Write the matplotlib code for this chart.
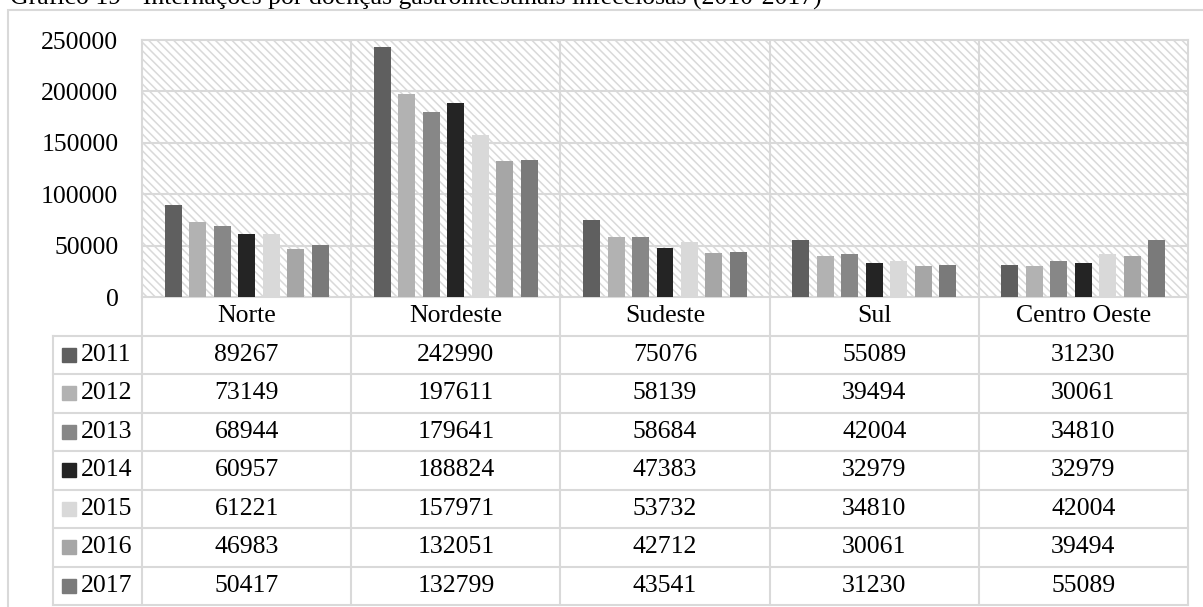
"""
Gráfico 19 - internações por doenças gastrointestinais infecciosas,
barras por região com tabela de dados embaixo (estilo Excel).
"""

import matplotlib

matplotlib.use("Agg")
import matplotlib.pyplot as plt
from matplotlib.patches import Rectangle

plt.rcParams["font.family"] = ["Liberation Serif", "DejaVu Serif"]
plt.rcParams["hatch.color"] = "#dedede"
plt.rcParams["hatch.linewidth"] = 1.1

regions = ["Norte", "Nordeste", "Sudeste", "Sul", "Centro Oeste"]
years = ["2011", "2012", "2013", "2014", "2015", "2016", "2017"]
v2011 = [89267, 242990, 75076, 55089, 31230]
v2012 = [73149, 197611, 58139, 39494, 30061]
v2013 = [68944, 179641, 58684, 42004, 34810]
v2014 = [60957, 188824, 47383, 32979, 32979]
v2015 = [61221, 157971, 53732, 34810, 42004]
v2016 = [46983, 132051, 42712, 30061, 39494]
v2017 = [50417, 132799, 43541, 31230, 55089]
series = [v2011, v2012, v2013, v2014, v2015, v2016, v2017]
colors = ["#5f5f5f", "#b2b2b2", "#878787", "#242424", "#d9d9d9", "#a6a6a6", "#7a7a7a"]
yticks = [0, 50000, 100000, 150000, 200000, 250000]

W, H = 1203, 607
GRID = "#d9d9d9"
FS = 18.5

fig = plt.figure(figsize=(W / 100, H / 100), dpi=100)


def px_rect(x0, y0, x1, y1):
    # pixel box (top-left origin) -> figure fraction [l, b, w, h]
    return [x0 / W, 1 - y1 / H, (x1 - x0) / W, (y1 - y0) / H]


# outer chart border (right/bottom run off the picture)
fig.patches.append(Rectangle((8 / W, -0.1), 1.2, 1 - 10 / H + 0.1,
                             transform=fig.transFigure, fill=False,
                             edgecolor=GRID, linewidth=1.5))

fig.text(10 / W, 1 - 5 / H,
         "Gráfico 19 - Internações por doenças gastrointestinais infecciosas (2010-2017)",
         fontsize=FS, va="baseline", ha="left")

# bar chart
ax = fig.add_axes(px_rect(142, 40, 1188, 297))
ax.add_patch(Rectangle((0, 0), 1, 1, transform=ax.transAxes, facecolor="white",
                       hatch="\\\\\\\\", edgecolor=GRID, linewidth=0, zorder=0))
ax.set_facecolor("white")

step = 0.117
width = 0.081
for j, (vals, col) in enumerate(zip(series, colors)):
    xs = [i + (j - 3) * step for i in range(len(regions))]
    ax.bar(xs, vals, width=width, color=col, zorder=3)

ax.set_xlim(-0.5, len(regions) - 0.5)
ax.set_ylim(0, 250000)
ax.set_yticks(yticks)
ax.set_yticklabels([str(t) for t in yticks], fontsize=FS)
ax.tick_params(axis="y", length=0, pad=17)
ax.set_xticks([])
for y in yticks[1:-1]:
    ax.axhline(y, color=GRID, linewidth=1.5, zorder=1)
for i in range(len(regions) - 1):
    ax.axvline(i + 0.5, color=GRID, linewidth=1.5, zorder=1)
for s in ax.spines.values():
    s.set_color(GRID)
    s.set_linewidth(1.5)

# data table under the chart
leg_w = 89 / 209.2
tx = fig.add_axes(px_rect(53, 297, 1188, 605))
tx.set_xlim(-0.5 - leg_w, len(regions) - 0.5)
tx.set_ylim(len(years) + 1, 0)
tx.axis("off")
left = -0.5 - leg_w
right = len(regions) - 0.5
nrow = len(years) + 1
for r in range(1, nrow + 1):
    tx.plot([left, right], [r, r], color=GRID, linewidth=1.5, clip_on=False)
tx.plot([left, left], [1, nrow], color=GRID, linewidth=1.5, clip_on=False)
for i in range(len(regions) + 1):
    tx.plot([i - 0.5, i - 0.5], [0, nrow], color=GRID, linewidth=1.5, clip_on=False)

for i, name in enumerate(regions):
    tx.text(i, 0.5, name, fontsize=FS, ha="center", va="center")
for j, (yr, vals, col) in enumerate(zip(years, series, colors)):
    yc = j + 1.5
    tx.plot([left + 16 / 209.2], [yc], marker="s", markersize=9.5, color=col,
            linestyle="none", clip_on=False)
    tx.text(left + 28 / 209.2, yc, yr, fontsize=FS, ha="left", va="center")
    for i, v in enumerate(vals):
        tx.text(i, yc, str(v), fontsize=FS, ha="center", va="center")

fig.savefig("out.png", dpi=100)
plt.close(fig)
